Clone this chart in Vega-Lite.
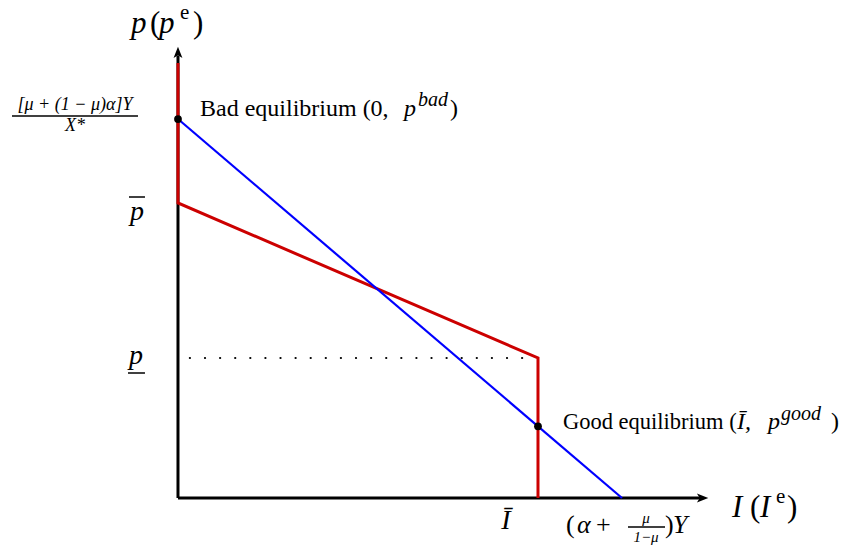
{
  "$schema": "https://vega.github.io/schema/vega-lite/v6.json",
  "width": 863,
  "height": 550,
  "autosize": {"type": "fit", "contains": "padding"},
  "padding": 0,
  "background": "white",
  "config": {"view": {"stroke": null}},
  "datasets": {
    "lines": [
      {"series": "xaxis", "order": 1, "x": 0, "y": 0},
      {"series": "xaxis", "order": 2, "x": 1.45, "y": 0},
      {"series": "yaxis", "order": 1, "x": 0, "y": 0},
      {"series": "yaxis", "order": 2, "x": 0, "y": 1.5},
      {"series": "red", "order": 1, "x": 0, "y": 1.4746},
      {"series": "red", "order": 2, "x": 0, "y": 1.0},
      {"series": "red", "order": 3, "x": 1.0, "y": 0.4746},
      {"series": "red", "order": 4, "x": 1.0, "y": 0},
      {"series": "blue", "order": 1, "x": 0, "y": 1.2847},
      {"series": "blue", "order": 2, "x": 1.2333, "y": 0},
      {"series": "dotted", "order": 1, "x": 0.033, "y": 0.4746},
      {"series": "dotted", "order": 2, "x": 0.98, "y": 0.4746}
    ],
    "arrows": [
      {"dir": "up", "x": 0, "y": 1.5085},
      {"dir": "right", "x": 1.4555, "y": 0}
    ],
    "points": [
      {"name": "bad", "x": 0, "y": 1.2847},
      {"name": "good", "x": 1.0, "y": 0.243}
    ],
    "rules": [
      {"name": "numbar", "x": -0.4611, "x2": -0.1111, "y": 1.2949},
      {"name": "pbar", "x": -0.1361, "x2": -0.0917, "y": 1.0203},
      {"name": "punder", "x": -0.1389, "x2": -0.0917, "y": 0.4237},
      {"name": "mubar", "x": 1.25, "x2": 1.3528, "y": -0.0983}
    ],
    "labels": [
      {"grp": "bigI", "text": "p", "x": -0.1306, "y": 1.6068},
      {"grp": "bigU", "text": "(", "x": -0.0778, "y": 1.6068},
      {"grp": "bigI", "text": "p", "x": -0.0528, "y": 1.6068},
      {"grp": "supU", "text": "e", "x": 0.0056, "y": 1.6441},
      {"grp": "bigU", "text": ")", "x": 0.0417, "y": 1.6068},
      {"grp": "bigI", "text": "I", "x": 1.5389, "y": -0.0339},
      {"grp": "bigU", "text": "(", "x": 1.5889, "y": -0.0339},
      {"grp": "bigI", "text": "I", "x": 1.6167, "y": -0.0339},
      {"grp": "supU", "text": "e", "x": 1.6611, "y": 0.0034},
      {"grp": "bigU", "text": ")", "x": 1.6917, "y": -0.0339},
      {"grp": "bigC", "text": "p", "x": -0.1139, "y": 0.9695},
      {"grp": "bigC", "text": "p", "x": -0.1167, "y": 0.4814},
      {"grp": "bigC", "text": "Ī", "x": 0.9111, "y": -0.0780},
      {"grp": "frac", "text": "[μ + (1 − μ)α]Y", "x": -0.2861, "y": 1.3322},
      {"grp": "frac", "text": "X*", "x": -0.2861, "y": 1.2610},
      {"grp": "eqU", "text": "Bad equilibrium (0,", "x": 0.0611, "y": 1.3186},
      {"grp": "eqI", "text": "p", "x": 0.6278, "y": 1.3186},
      {"grp": "supI", "text": "bad", "x": 0.6667, "y": 1.3492},
      {"grp": "eqU", "text": ")", "x": 0.7556, "y": 1.3186},
      {"grp": "eqU2", "text": "Good equilibrium (", "x": 1.0694, "y": 0.2576},
      {"grp": "eqI", "text": "Ī,", "x": 1.5528, "y": 0.2576},
      {"grp": "eqI", "text": "p", "x": 1.6389, "y": 0.2576},
      {"grp": "supI", "text": "good", "x": 1.675, "y": 0.2847},
      {"grp": "eqU", "text": ")", "x": 1.8139, "y": 0.2576},
      {"grp": "axU", "text": "(", "x": 1.0778, "y": -0.0915},
      {"grp": "axI", "text": "α", "x": 1.1083, "y": -0.0915},
      {"grp": "axU", "text": "+", "x": 1.1611, "y": -0.0915},
      {"grp": "axU", "text": ")", "x": 1.3528, "y": -0.0915},
      {"grp": "axI", "text": "Y", "x": 1.375, "y": -0.0915},
      {"grp": "tiny", "text": "μ", "x": 1.3, "y": -0.0678},
      {"grp": "tiny", "text": "1−μ", "x": 1.3, "y": -0.1322}
    ]
  },
  "encoding": {
    "x": {"field": "x", "type": "quantitative", "scale": {"domain": [-0.4944, 1.9028], "nice": false, "zero": false}, "axis": null},
    "y": {"field": "y", "type": "quantitative", "scale": {"domain": [-0.1763, 1.6881], "nice": false, "zero": false}, "axis": null}
  },
  "layer": [
    {
      "data": {"name": "lines"},
      "transform": [{"filter": "datum.series === 'xaxis' || datum.series === 'yaxis'"}],
      "mark": {"type": "line", "color": "black", "strokeWidth": 3, "strokeCap": "butt"},
      "encoding": {"detail": {"field": "series"}, "order": {"field": "order"}}
    },
    {
      "data": {"name": "arrows"},
      "transform": [{"filter": "datum.dir === 'up'"}],
      "mark": {"type": "point", "filled": true, "color": "black", "opacity": 1, "size": 160, "shape": "M0,-1L0.7,0.8L0,0.35L-0.7,0.8Z"},
      "encoding": {}
    },
    {
      "data": {"name": "arrows"},
      "transform": [{"filter": "datum.dir === 'right'"}],
      "mark": {"type": "point", "filled": true, "color": "black", "opacity": 1, "size": 160, "shape": "M1,0L-0.8,0.7L-0.35,0L-0.8,-0.7Z"},
      "encoding": {}
    },
    {
      "data": {"name": "lines"},
      "transform": [{"filter": "datum.series === 'red'"}],
      "mark": {"type": "line", "color": "#cc0000", "strokeWidth": 3, "strokeJoin": "miter", "strokeCap": "butt"},
      "encoding": {"order": {"field": "order"}}
    },
    {
      "data": {"name": "lines"},
      "transform": [{"filter": "datum.series === 'blue'"}],
      "mark": {"type": "line", "color": "#0000ff", "strokeWidth": 2.2},
      "encoding": {"order": {"field": "order"}}
    },
    {
      "data": {"name": "lines"},
      "transform": [{"filter": "datum.series === 'dotted'"}],
      "mark": {"type": "line", "color": "black", "strokeWidth": 2.2, "strokeCap": "round", "strokeDash": [0.1, 15]},
      "encoding": {"order": {"field": "order"}}
    },
    {
      "data": {"name": "points"},
      "mark": {"type": "circle", "color": "black", "opacity": 1, "size": 60},
      "encoding": {}
    },
    {
      "data": {"name": "rules"},
      "mark": {"type": "rule", "color": "black", "strokeWidth": 1.5},
      "encoding": {"x2": {"field": "x2"}}
    },
    {
      "data": {"name": "labels"},
      "transform": [{"filter": "datum.grp === 'bigI'"}],
      "mark": {"type": "text", "font": "Liberation Serif", "fontStyle": "italic", "fontSize": 31, "align": "left", "baseline": "middle", "color": "black"},
      "encoding": {"text": {"field": "text"}}
    },
    {
      "data": {"name": "labels"},
      "transform": [{"filter": "datum.grp === 'bigU'"}],
      "mark": {"type": "text", "font": "Liberation Serif", "fontSize": 31, "align": "left", "baseline": "middle", "color": "black"},
      "encoding": {"text": {"field": "text"}}
    },
    {
      "data": {"name": "labels"},
      "transform": [{"filter": "datum.grp === 'supU'"}],
      "mark": {"type": "text", "font": "Liberation Serif", "fontSize": 21, "align": "left", "baseline": "middle", "color": "black"},
      "encoding": {"text": {"field": "text"}}
    },
    {
      "data": {"name": "labels"},
      "transform": [{"filter": "datum.grp === 'bigC'"}],
      "mark": {"type": "text", "font": "Liberation Serif", "fontStyle": "italic", "fontSize": 28, "align": "center", "baseline": "middle", "color": "black"},
      "encoding": {"text": {"field": "text"}}
    },
    {
      "data": {"name": "labels"},
      "transform": [{"filter": "datum.grp === 'supI'"}],
      "mark": {"type": "text", "font": "Liberation Serif", "fontStyle": "italic", "fontSize": 20, "align": "left", "baseline": "middle", "color": "black"},
      "encoding": {"text": {"field": "text"}}
    },
    {
      "data": {"name": "labels"},
      "transform": [{"filter": "datum.grp === 'frac'"}],
      "mark": {"type": "text", "font": "Liberation Serif", "fontStyle": "italic", "fontSize": 18, "align": "center", "baseline": "middle", "color": "black"},
      "encoding": {"text": {"field": "text"}}
    },
    {
      "data": {"name": "labels"},
      "transform": [{"filter": "datum.grp === 'eqU'"}],
      "mark": {"type": "text", "font": "Liberation Serif", "fontSize": 24, "align": "left", "baseline": "middle", "color": "black"},
      "encoding": {"text": {"field": "text"}}
    },
    {
      "data": {"name": "labels"},
      "transform": [{"filter": "datum.grp === 'eqU2'"}],
      "mark": {"type": "text", "font": "Liberation Serif", "fontSize": 22.5, "align": "left", "baseline": "middle", "color": "black"},
      "encoding": {"text": {"field": "text"}}
    },
    {
      "data": {"name": "labels"},
      "transform": [{"filter": "datum.grp === 'eqI'"}],
      "mark": {"type": "text", "font": "Liberation Serif", "fontStyle": "italic", "fontSize": 24, "align": "left", "baseline": "middle", "color": "black"},
      "encoding": {"text": {"field": "text"}}
    },
    {
      "data": {"name": "labels"},
      "transform": [{"filter": "datum.grp === 'axU'"}],
      "mark": {"type": "text", "font": "Liberation Serif", "fontSize": 26, "align": "left", "baseline": "middle", "color": "black"},
      "encoding": {"text": {"field": "text"}}
    },
    {
      "data": {"name": "labels"},
      "transform": [{"filter": "datum.grp === 'axI'"}],
      "mark": {"type": "text", "font": "Liberation Serif", "fontStyle": "italic", "fontSize": 26, "align": "left", "baseline": "middle", "color": "black"},
      "encoding": {"text": {"field": "text"}}
    },
    {
      "data": {"name": "labels"},
      "transform": [{"filter": "datum.grp === 'tiny'"}],
      "mark": {"type": "text", "font": "Liberation Serif", "fontStyle": "italic", "fontSize": 15, "align": "center", "baseline": "middle", "color": "black"},
      "encoding": {"text": {"field": "text"}}
    }
  ]
}
